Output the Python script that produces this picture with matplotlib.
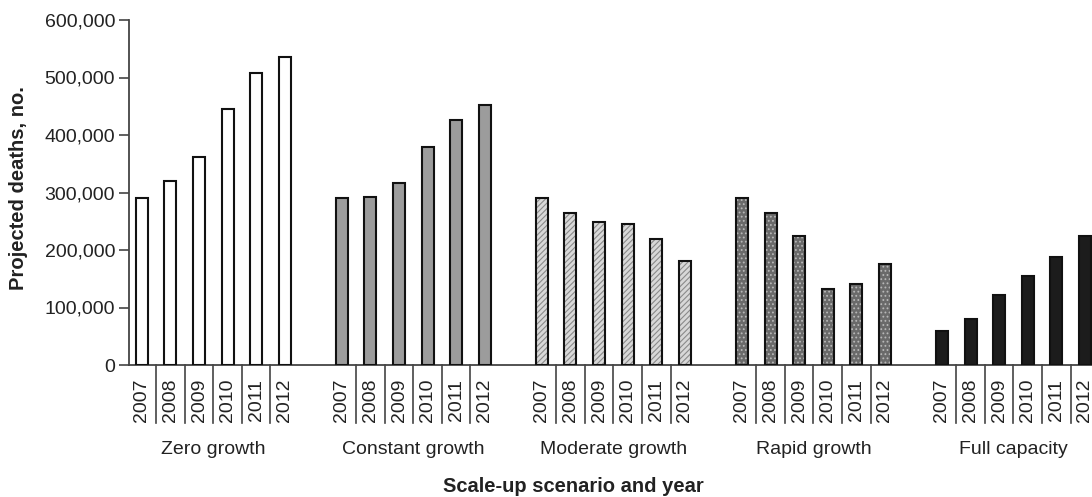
import matplotlib
matplotlib.use("Agg")
import matplotlib.pyplot as plt
import matplotlib.transforms as mtransforms

plt.rcParams['font.family'] = ['Liberation Sans', 'DejaVu Sans']

scenarios = ["Zero growth", "Constant growth", "Moderate growth", "Rapid growth", "Full capacity"]
years = ["2007", "2008", "2009", "2010", "2011", "2012"]
zero_growth = [291000, 320000, 362000, 445000, 507000, 535000]
constant_growth = [290000, 293000, 317000, 379000, 426000, 453000]
moderate_growth = [290000, 264000, 248000, 245000, 219000, 181000]
rapid_growth = [290000, 264000, 224000, 133000, 141000, 176000]
full_capacity = [59000, 80000, 121000, 155000, 187000, 224000]
series = [zero_growth, constant_growth, moderate_growth, rapid_growth, full_capacity]

styles = [
    dict(face="#ffffff", hatch=None, hcol="#ffffff"),
    dict(face="#9c9c9c", hatch=None, hcol="#9c9c9c"),
    dict(face="#d8d8d8", hatch="//////", hcol="#8a8a8a"),
    dict(face="#6a6a6a", hatch="....", hcol="#b8b8b8"),
    dict(face="#1c1c1c", hatch=None, hcol="#1c1c1c"),
]

fig = plt.figure(figsize=(10.92, 4.97), dpi=100)
ax = fig.add_axes([129/1092, 1-365/497, 1-129/1092, 345/497])

width = 0.42
plt.rcParams['hatch.linewidth'] = 0.8
for g, (vals, st) in enumerate(zip(series, styles)):
    xs = [g*7 + i for i in range(len(years))]
    if st["hatch"]:
        ax.bar(xs, vals, width=width, color=st["face"], hatch=st["hatch"],
               edgecolor=st["hcol"], linewidth=0, zorder=2)
    else:
        ax.bar(xs, vals, width=width, color=st["face"], linewidth=0, zorder=2)
    ax.bar(xs, vals, width=width, fill=False, edgecolor="#111111", linewidth=1.5, zorder=3)

ax.set_ylim(0, 600000)
ax.set_xlim(-0.45, 33.25)
ax.set_yticks(range(0, 600001, 100000))
ax.set_yticklabels([f"{v:,}" for v in range(0, 600001, 100000)], fontsize=14, color="#222222")
ax.tick_params(axis='y', length=7, width=1.2, color="#444444", pad=3)
ax.set_xticks([])
for s in ["top", "right"]:
    ax.spines[s].set_visible(False)
for s in ["left", "bottom"]:
    ax.spines[s].set_linewidth(1.3)
    ax.spines[s].set_color("#444444")

trans = mtransforms.blended_transform_factory(ax.transData, ax.transAxes)
sep_bottom = -(423-365)/345
for g, name in enumerate(scenarios):
    for i, yr in enumerate(years):
        x = g*7 + i
        ax.text(x, -14/345, yr, transform=trans, rotation=90, ha="center", va="top",
                fontsize=14, color="#222222")
        if i < len(years) - 1:
            ax.plot([x+0.5, x+0.5], [0, sep_bottom], transform=trans, color="#444444",
                    linewidth=1.2, clip_on=False)
    ax.text(g*7 + 2.5, -(449-365)/345, name, transform=trans, ha="center", va="center",
            fontsize=14, color="#222222")

fig.text(573/1092, 1-487/497, "Scale-up scenario and year", ha="center", va="center",
         fontsize=14.5, fontweight="bold", color="#222222")
fig.text(19/1092, 1-188/497, "Projected deaths, no.", ha="center", va="center",
         rotation=90, fontsize=14.5, fontweight="bold", color="#222222")

fig.savefig("out.png", dpi=100)
